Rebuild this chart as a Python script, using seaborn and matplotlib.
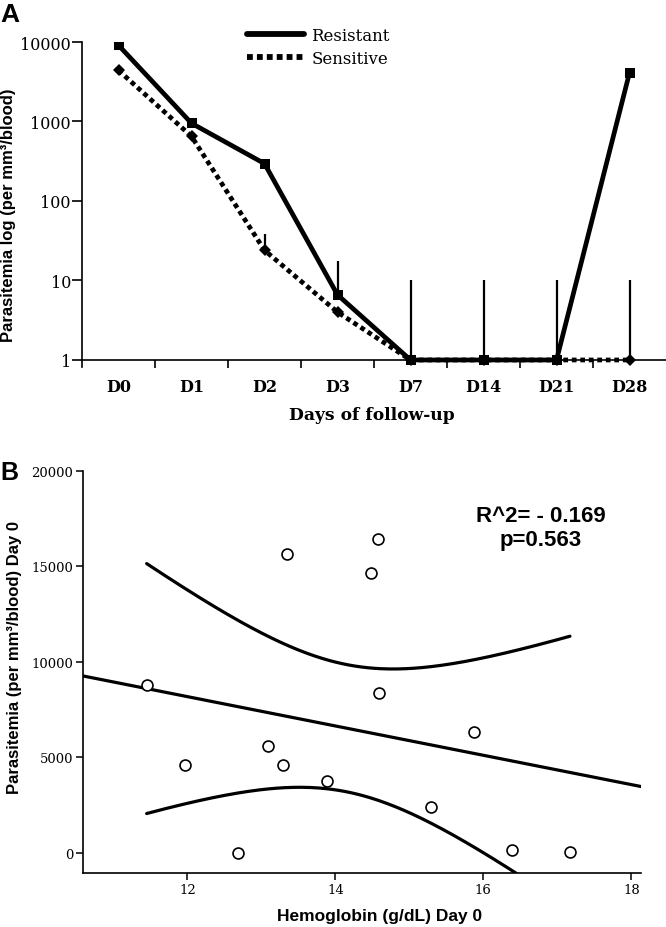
import numpy as np
import pandas as pd
import matplotlib
matplotlib.use("Agg")
import matplotlib.pyplot as plt
import seaborn as sns
from matplotlib.lines import Line2D
from matplotlib.ticker import FixedLocator, NullLocator, FixedFormatter

# ---------------- Panel A data ----------------
days = ["D0", "D1", "D2", "D3", "D7", "D14", "D21", "D28"]
resistant = [9100, 950, 295, 6.6, 1, 1, 1, 4100]
sensitive = [4400, 650, 24, 4.0, 1, 1, 1, 1]
resistant_err_top = [np.nan, np.nan, np.nan, 17.6, np.nan, np.nan, np.nan, np.nan]
sensitive_err_top = [np.nan, np.nan, 38, np.nan, 10, 10, 10, 10]
a_yticks = [1, 10, 100, 1000, 10000]
a_yticklabels = ["1", "10", "100", "1000", "10000"]

# ---------------- Panel B data ----------------
hemoglobin = [11.45, 11.97, 12.68, 13.09, 13.29, 13.35, 13.89, 14.48, 14.57, 14.59, 15.29, 15.87, 16.39, 17.17]
parasitemia = [8790, 4600, 0, 5620, 4600, 15650, 3780, 14640, 16460, 8380, 2400, 6330, 180, 70]
b_xticks = [12, 14, 16, 18]
b_yticks = [0, 5000, 10000, 15000, 20000]
stats_text = ["R^2= - 0.169", "p=0.563"]

sns.set_theme(style="ticks")
plt.rcParams['font.family'] = ['DejaVu Serif']
plt.rcParams.update({'text.color': 'black', 'axes.labelcolor': 'black',
                     'xtick.color': 'black', 'ytick.color': 'black',
                     'axes.edgecolor': 'black'})
SANS = ['Liberation Sans', 'DejaVu Sans']
SERIF = ['DejaVu Serif']

W, H = 666, 928
fig = plt.figure(figsize=(W / 100, H / 100), dpi=100)

# ================= Panel A =================
axA = fig.add_axes([82 / W, 1 - 368 / H, 1 - 82 / W, (368 - 43) / H])
pos = np.arange(len(days))

sns.lineplot(x=pos, y=sensitive, ax=axA, color='black', lw=3.4,
             linestyle=(0, (1, 0.8)), dash_capstyle='butt',
             marker='D', markersize=6.5, markeredgewidth=0, sort=False)
sns.lineplot(x=pos, y=resistant, ax=axA, color='black', lw=3.4,
             marker='s', markersize=7.7, markeredgewidth=0, sort=False)

s_top = np.array(sensitive_err_top, dtype=float)
r_top = np.array(resistant_err_top, dtype=float)
ms = ~np.isnan(s_top)
mr = ~np.isnan(r_top)
axA.vlines(pos[ms], np.array(sensitive)[ms], s_top[ms], color='black', lw=1.6)
axA.vlines(pos[mr], np.array(resistant)[mr], r_top[mr], color='black', lw=1.6)

axA.set_yscale('log')
axA.set_ylim(0.816, 10000)
axA.set_xlim(-0.5, 7.5)
axA.yaxis.set_major_locator(FixedLocator(a_yticks))
axA.yaxis.set_major_formatter(FixedFormatter(a_yticklabels))
axA.yaxis.set_minor_locator(NullLocator())
axA.spines['top'].set_visible(False)
axA.spines['right'].set_visible(False)
axA.spines['bottom'].set_position(('data', 1))
for sp in ['left', 'bottom']:
    axA.spines[sp].set_linewidth(1.2)
    axA.spines[sp].set_color('black')

axA.set_xticks(pos)
axA.set_xticklabels(days, fontweight='bold', fontsize=11.5, family=SERIF)
axA.set_xticks(pos[:-1] + 0.5, minor=True)
axA.tick_params(axis='x', which='major', length=0, pad=13)
axA.tick_params(axis='x', which='minor', length=6, width=1.2, direction='out', color='black')
axA.tick_params(axis='y', which='major', length=7, width=1.2, labelsize=11.5, color='black', pad=1)
for lab in axA.get_yticklabels():
    lab.set_family(SERIF)

axA.set_xlabel("Days of follow-up", fontweight='bold', fontsize=12.3, family=SERIF, va='center')
axA.xaxis.set_label_coords((372 - 82) / (W - 82), (368 - 415) / 325)
axA.set_ylabel("Parasitemia log (per mm³/blood)", fontweight='bold', fontsize=12,
               family=SANS, va='center')
axA.yaxis.set_label_coords((9 - 82) / (W - 82), (368 - 215) / 325)

handles = [Line2D([], [], color='black', lw=4.2),
           Line2D([], [], color='black', lw=4.2, linestyle=(0, (1, 0.7)), dash_capstyle='butt')]
fig.legend(handles, ["Resistant", "Sensitive"], loc='upper left',
           bbox_to_anchor=(247 / W, 1 - 28 / H), bbox_transform=fig.transFigure,
           frameon=False, prop={'family': SERIF, 'size': 12},
           handlelength=3.4, handletextpad=0.45, labelspacing=0.35,
           borderpad=0, borderaxespad=0)

fig.text(0, 1 - 3 / H, "A", fontsize=19, fontweight='bold', family=SANS, va='top', ha='left')

# ================= Panel B =================
axB = fig.add_axes([83 / W, 1 - 874 / H, (641 - 83) / W, (874 - 472) / H])
axB.set_xlim(10.59, 18.13)
axB.set_ylim(-1050, 20000)

sns.regplot(x=hemoglobin, y=parasitemia, ax=axB, scatter=False, ci=None,
            truncate=False, line_kws=dict(color='black', lw=2.3))

# 95% confidence curves of the fitted mean
X = np.asarray(hemoglobin, dtype=float)
Y = np.asarray(parasitemia, dtype=float)
n = len(X)
b1, b0 = np.polyfit(X, Y, 1)
resid = Y - (b0 + b1 * X)
s_res = np.sqrt(np.sum(resid ** 2) / (n - 2))
sxx = np.sum((X - X.mean()) ** 2)
t_crit = 2.1788
xs = np.linspace(X.min(), X.max(), 200)
se = s_res * np.sqrt(1 / n + (xs - X.mean()) ** 2 / sxx)
fit = b0 + b1 * xs
sns.lineplot(x=xs, y=fit + t_crit * se, ax=axB, color='black', lw=2.3, sort=False)
sns.lineplot(x=xs, y=fit - t_crit * se, ax=axB, color='black', lw=2.3, sort=False)

sns.scatterplot(x=hemoglobin, y=parasitemia, ax=axB, marker='o', s=62,
                facecolor='white', edgecolor='black', linewidth=1.2, zorder=5)

axB.set_xticks(b_xticks)
axB.set_yticks(b_yticks)
axB.set_xticklabels([str(v) for v in b_xticks], family=SERIF, fontsize=9.5)
axB.set_yticklabels([str(v) for v in b_yticks], family=SERIF, fontsize=9.5)
axB.tick_params(axis='both', length=5, width=1.1, color='black', pad=2)
axB.spines['top'].set_visible(False)
axB.spines['right'].set_visible(False)
for sp in ['left', 'bottom']:
    axB.spines[sp].set_linewidth(1.2)
    axB.spines[sp].set_color('black')

axB.set_xlabel("Hemoglobin (g/dL) Day 0", fontweight='bold', fontsize=12.5, family=SANS, va='center')
axB.xaxis.set_label_coords((380 - 83) / (641 - 83), (874 - 917) / (874 - 472))
axB.set_ylabel("Parasitemia (per mm³/blood) Day 0", fontweight='bold', fontsize=12,
               family=SANS, va='center')
axB.yaxis.set_label_coords((15 - 83) / (641 - 83), (874 - 658) / (874 - 472))

fig.text(541 / W, 1 - 522 / H, stats_text[0], fontsize=16, fontweight='bold', family=SANS,
         ha='center', va='baseline')
fig.text(541 / W, 1 - 546 / H, stats_text[1], fontsize=16, fontweight='bold', family=SANS,
         ha='center', va='baseline')

fig.text(0, 1 - 461 / H, "B", fontsize=18, fontweight='bold', family=SANS, va='top', ha='left')

fig.savefig("out.png", dpi=100)
